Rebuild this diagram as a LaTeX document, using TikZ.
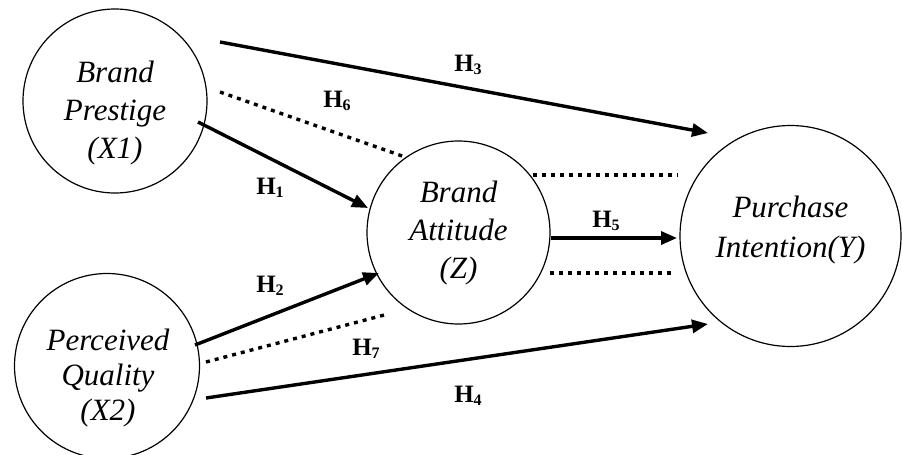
\documentclass[tikz,border=0pt]{standalone}
\usepackage{fontspec}
\setmainfont{Liberation Serif}
\usetikzlibrary{arrows.meta}
\tikzset{
  var/.style={draw, circle, line width=1.2pt, inner sep=0pt},
  vartext/.style={inner sep=0pt, align=center, font=\itshape\fontsize{31}{38}\selectfont},
  hyp/.style={line width=3.4pt, -{Triangle[length=16pt,width=13pt]}},
  med/.style={line width=3.4pt, dash pattern=on 4pt off 5pt},
  lab/.style={inner sep=0pt, font=\bfseries\fontsize{25}{25}\selectfont}
}
\newcommand{\hlab}[1]{H\raisebox{-2.5pt}{\fontsize{16}{16}\selectfont #1}}
\begin{document}
\begin{tikzpicture}[x=1pt,y=-1pt]
\useasboundingbox (0,0) rectangle (902,455);
\node[var, minimum size=184pt] (X1) at (115,101) {};
\node[var, minimum size=185pt] (X2) at (107,366) {};
\node[var, minimum size=183pt] (Z) at (458.5,232.5) {};
\node[var, minimum size=221pt] (Y) at (790.5,236) {};
\node[vartext] (X1t) at (115,113) {Brand\\Prestige\\(X1)};
\node[vartext, font=\itshape\fontsize{31}{35}\selectfont] (X2t) at (108,378) {Perceived\\Quality\\(X2)};
\node[vartext] (Zt) at (458.5,233) {Brand\\Attitude\\(Z)};
\node[vartext, font=\itshape\fontsize{31}{40}\selectfont] (Yt) at (790.5,230) {Purchase\\Intention(Y)};
% connector end points
\coordinate (h3s) at (220,42);  \coordinate (h3e) at (708,133);
\coordinate (h6s) at (220,92);  \coordinate (h6e) at (405,157);
\coordinate (h1s) at (198,122); \coordinate (h1e) at (368,208);
\coordinate (h2s) at (195,345); \coordinate (h2e) at (379,273);
\coordinate (h7s) at (206,362); \coordinate (h7e) at (388,314);
\coordinate (h4s) at (206,398); \coordinate (h4e) at (708,324);
\coordinate (h5s) at (551,238); \coordinate (h5e) at (677,238);
\coordinate (dus) at (533,175); \coordinate (due) at (678,175);
\coordinate (dls) at (550,273); \coordinate (dle) at (673,273);
\draw[hyp] (h3s) -- (h3e);
\draw[med] (h6s) -- (h6e);
\draw[hyp] (h1s) -- (h1e);
\draw[hyp] (h2s) -- (h2e);
\draw[med] (h7s) -- (h7e);
\draw[hyp] (h4s) -- (h4e);
\draw[hyp] (h5s) -- (h5e);
\draw[med] (dus) -- (due);
\draw[med] (dls) -- (dle);
\node[lab] (L3) at (468,65) {\hlab{3}};
\node[lab] (L6) at (337,101) {\hlab{6}};
\node[lab] (L1) at (270,188) {\hlab{1}};
\node[lab] (L2) at (270,286) {\hlab{2}};
\node[lab] (L7) at (366,349) {\hlab{7}};
\node[lab] (L4) at (468,396) {\hlab{4}};
\node[lab] (L5) at (606,221) {\hlab{5}};
\end{tikzpicture}
\end{document}
